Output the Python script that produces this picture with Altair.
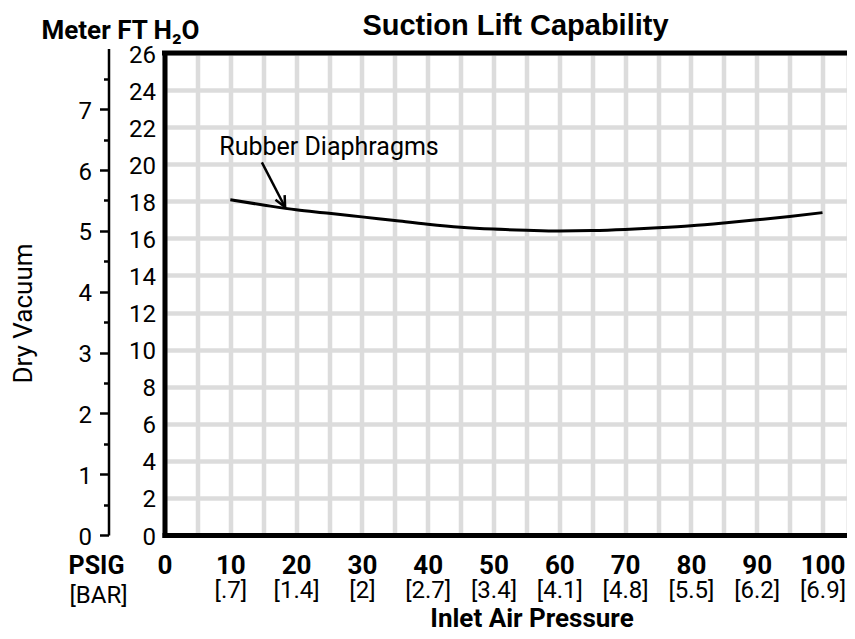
import math
import altair as alt
import pandas as pd

# ---------------- data ----------------
pressure_psig = [10, 15, 20, 25, 30, 35, 40, 45, 50, 55, 60, 65, 70, 75, 80, 85, 90, 95, 100]
vacuum_ft = [18.08, 17.8, 17.54, 17.36, 17.16, 16.96, 16.76, 16.6, 16.5, 16.44, 16.4, 16.42,
             16.48, 16.57, 16.68, 16.83, 17.0, 17.18, 17.39]

psig_ticks = [0, 10, 20, 30, 40, 50, 60, 70, 80, 90, 100]
bar_labels = ["", "[.7]", "[1.4]", "[2]", "[2.7]", "[3.4]", "[4.1]", "[4.8]", "[5.5]", "[6.2]", "[6.9]"]
grid_x = list(range(0, 101, 5))
ft_ticks = list(range(0, 27, 2))
meter_major = [0, 1, 2, 3, 4, 5, 6, 7]
meter_minor = [0.5, 1.5, 2.5, 3.5, 4.5, 5.5, 6.5, 7.5]

annot_text = ["Rubber Diaphragms"]
annot_x = [25.0]
annot_y = [20.5]
arrow_from = [14.8, 20.1]
arrow_to = [18.33, 17.68]

FT_PER_M = 3.28084
W, H = 682, 482
X_MAX = W / 6.58
Y_MAX = 26
M_MAX = 8

NARROW = "Roboto, sans-serif"
WIDE = "Liberation Sans, Arial, sans-serif"

df = pd.DataFrame({"psig": pressure_psig, "ft": vacuum_ft})
xs = alt.Scale(domain=[0, X_MAX], nice=False, zero=False)
ys = alt.Scale(domain=[0, Y_MAX], nice=False)
ms = alt.Scale(domain=[0, M_MAX], range=[H, H - M_MAX * FT_PER_M * H / Y_MAX], nice=False)

# bracket label expression built from lists
expr = "''"
for v, lab in zip(reversed(psig_ticks), reversed(bar_labels)):
    expr = f"datum.value == {v} ? '{lab}' : ({expr})"

axis_x_main = alt.Axis(
    orient="bottom", values=grid_x, labelExpr="datum.value % 10 === 0 ? datum.label : ''",
    labelFont=NARROW, labelFontSize=26, labelFontWeight="bold", labelColor="black",
    labelBaseline="alphabetic", labelPadding=38, labelFlush=False, labelOverlap=False, labelBound=False,
    ticks=False, tickSize=0, domain=True, domainColor="black", domainWidth=5, domainCap="square",
    grid=True, gridColor="#dcdcdc", gridWidth=4.5,
    title="PSIG", titleFont=NARROW, titleFontSize=25, titleFontWeight="bold", titleColor="black",
    titleX=-68.5, titleY=38, titleBaseline="alphabetic", titleAlign="center",
)
axis_x_bar = alt.Axis(
    orient="bottom", values=psig_ticks, labelExpr=expr,
    labelFont=NARROW, labelFontSize=24, labelFontWeight="normal", labelColor="black",
    labelBaseline="alphabetic", labelPadding=62, labelFlush=False, labelOverlap=False, labelBound=False,
    ticks=False, tickSize=0, domain=False, grid=False,
    title="[BAR]", titleFont=NARROW, titleFontSize=24, titleFontWeight="normal", titleColor="black",
    titleX=-66.5, titleY=67, titleBaseline="alphabetic", titleAlign="center",
)
axis_x_title = alt.Axis(
    orient="bottom", values=psig_ticks, labels=False, ticks=False, tickSize=0, domain=False, grid=False,
    title="Inlet Air Pressure", titleFont=NARROW, titleFontSize=26, titleFontWeight="bold",
    titleColor="black", titleX=367, titleY=91, titleBaseline="alphabetic", titleAlign="center",
)
axis_y_ft = alt.Axis(
    orient="left", values=ft_ticks, labelFont=NARROW, labelFontSize=24, labelColor="black", labelPadding=9,
    labelOffset=2, labelFlush=False, labelOverlap=False, labelBound=False,
    ticks=False, tickSize=0, domain=True, domainColor="black", domainWidth=5, domainCap="square",
    grid=True, gridColor="#dcdcdc", gridWidth=4.5,
    title="Meter FT H₂O", titleAngle=0, titleFont=NARROW, titleFontSize=26, titleFontWeight="bold",
    titleColor="black", titleX=-44.5, titleY=-15, titleBaseline="alphabetic", titleAlign="center",
)
axis_m_major = alt.Axis(
    orient="left", offset=56, values=meter_major,
    labelFont=NARROW, labelFontSize=24, labelColor="black", labelPadding=8, labelOffset=2,
    labelFlush=False, labelOverlap=False, labelBound=False,
    ticks=True, tickSize=9, tickWidth=2.5, tickColor="black",
    domain=True, domainColor="black", domainWidth=2.5, grid=False,
    title="Dry Vacuum", titleFont=NARROW, titleFontSize=26, titleFontWeight="normal", titleColor="black",
    titleAngle=270, titleX=-85, titleY=260, titleBaseline="middle", titleAlign="center",
)
axis_m_minor = alt.Axis(
    orient="left", offset=56, values=meter_minor, labels=False,
    ticks=True, tickSize=5, tickWidth=2.5, tickColor="black", domain=False, grid=False, title=None,
)

curve = alt.Chart(df).mark_line(color="black", strokeWidth=3, interpolate="monotone").encode(
    x=alt.X("psig:Q", scale=xs, axis=axis_x_main),
    y=alt.Y("ft:Q", scale=ys, axis=axis_y_ft),
)
bar_layer = alt.Chart(df).mark_point(opacity=0).encode(
    x=alt.X("psig:Q", scale=xs, axis=axis_x_bar),
    y=alt.Y("ft:Q", scale=ys, axis=None),
)
xtitle_layer = alt.Chart(df).mark_point(opacity=0).encode(
    x=alt.X("psig:Q", scale=xs, axis=axis_x_title),
    y=alt.Y("ft:Q", scale=ys, axis=None),
)
border_df = pd.DataFrame({"x": [0], "x2": [X_MAX], "y": [Y_MAX]})
border = alt.Chart(border_df).mark_rule(color="black", strokeWidth=5, strokeCap="square").encode(
    x=alt.X("x:Q", scale=xs, axis=None), x2="x2:Q",
    y=alt.Y("y:Q", scale=ys, axis=None),
)
annot_df = pd.DataFrame({"x": annot_x, "y": annot_y, "t": annot_text})
annot = alt.Chart(annot_df).mark_text(
    font=NARROW, fontSize=25, color="black", align="center", baseline="alphabetic"
).encode(
    x=alt.X("x:Q", scale=xs, axis=None), y=alt.Y("y:Q", scale=ys, axis=None), text="t:N"
)
shaft_df = pd.DataFrame({"x": [arrow_from[0]], "y": [arrow_from[1]], "x2": [arrow_to[0]], "y2": [arrow_to[1]]})
shaft = alt.Chart(shaft_df).mark_rule(color="black", strokeWidth=2.5).encode(
    x=alt.X("x:Q", scale=xs, axis=None), x2="x2:Q",
    y=alt.Y("y:Q", scale=ys, axis=None), y2="y2:Q",
)
dx_px = (arrow_to[0] - arrow_from[0]) * W / X_MAX
dy_px = (arrow_from[1] - arrow_to[1]) * H / Y_MAX
head_angle = (math.degrees(math.atan2(-dx_px, dy_px)) + 360) % 360
head_df = pd.DataFrame({"x": [arrow_to[0]], "y": [arrow_to[1]]})
head = alt.Chart(head_df).mark_point(
    shape="M -0.47 -1 L 0 0 L 0.47 -1", filled=False, color="black", strokeWidth=2.5,
    size=484, angle=head_angle, opacity=1,
).encode(x=alt.X("x:Q", scale=xs, axis=None), y=alt.Y("y:Q", scale=ys, axis=None))

inner = alt.layer(curve, bar_layer, xtitle_layer, border, annot, shaft, head).resolve_axis(
    x="independent", y="independent"
)

m_df = pd.DataFrame({"m": meter_major})
m_major = alt.Chart(m_df).mark_point(opacity=0).encode(y=alt.Y("m:Q", scale=ms, axis=axis_m_major))
m_df2 = pd.DataFrame({"m": meter_minor})
m_minor = alt.Chart(m_df2).mark_point(opacity=0).encode(y=alt.Y("m:Q", scale=ms, axis=axis_m_minor))

chart = alt.layer(inner, m_major, m_minor).resolve_scale(y="independent").resolve_axis(
    y="independent"
).properties(
    width=W, height=H,
    title=alt.TitleParams(
        "Suction Lift Capability", font=WIDE, fontSize=29, fontWeight="bold", color="black",
        anchor="middle", dx=10, offset=-47, baseline="alphabetic",
    ),
    autosize=alt.AutoSizeParams(type="none"),
    padding={"left": 156.5, "top": 45, "right": 0, "bottom": 96},
).configure_view(stroke=None).configure(background="white")

chart.save("out.html", embed_options={"renderer": "svg", "actions": False})
